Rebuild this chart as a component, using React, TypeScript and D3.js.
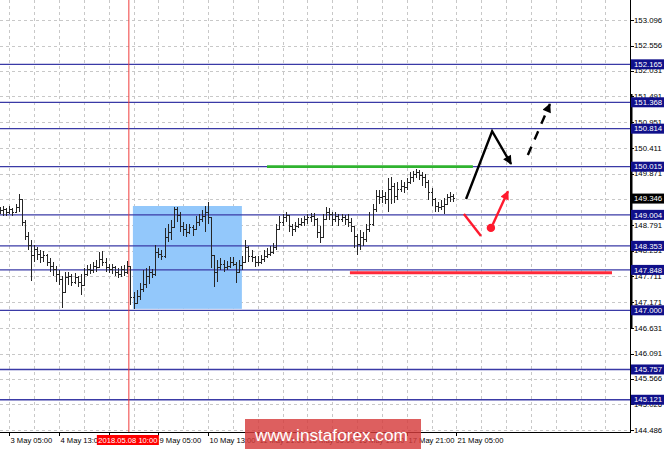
import React from 'react';
import * as d3 from 'd3';

const W = 665;
const H = 449;

// H2 bars: close, high, low
const closes = [149.09,149.11,149.06,149.11,149.06,149.15,149.32,148.85,148.56,148.37,
148.16,148.27,148.18,148.10,148.16,148.01,147.93,147.85,147.76,147.64,
147.38,147.68,147.72,147.59,147.68,147.59,147.53,147.76,147.85,147.83,
147.93,147.89,148.06,148.01,147.89,147.85,147.89,147.80,147.76,147.85,
147.80,147.93,147.26,147.15,147.30,147.43,147.55,147.72,147.80,147.76,
148.22,148.18,148.14,148.52,148.64,148.73,149.11,149.00,148.77,148.69,
148.64,148.73,148.69,148.85,148.90,148.98,149.06,148.94,148.16,147.80,
147.89,147.97,147.89,147.93,148.01,147.97,147.80,147.95,148.01,148.31,
148.14,148.10,148.01,148.01,148.06,148.14,148.18,148.22,148.31,148.69,
148.85,148.94,149.00,148.77,148.69,148.77,148.81,148.85,148.90,148.94,
148.98,148.90,148.64,148.52,148.90,149.06,149.02,148.90,148.98,148.90,
148.94,148.90,148.85,148.77,148.56,148.39,148.52,148.48,148.69,148.81,
149.11,149.40,149.36,149.40,149.32,149.53,149.61,149.40,149.53,149.61,
149.57,149.69,149.78,149.86,149.90,149.84,149.78,149.69,149.48,149.32,
149.19,149.15,149.19,149.23,149.36,149.40,149.35];
const highs = [149.17,149.19,149.15,149.19,149.15,149.23,149.44,149.21,148.90,148.64,
148.48,148.37,148.33,148.27,148.25,148.18,148.10,148.01,147.93,147.85,
147.72,147.80,147.80,147.76,147.78,147.72,147.76,147.89,147.95,147.97,
148.01,148.06,148.22,148.25,148.10,147.97,147.97,147.93,147.89,147.93,
147.95,148.04,147.53,147.38,147.43,147.57,147.85,147.89,147.93,147.87,
148.37,148.31,148.27,148.73,148.81,148.90,149.17,149.17,149.06,148.85,
148.81,148.81,148.79,148.98,149.02,149.11,149.19,149.27,148.94,148.16,
148.06,148.10,148.06,148.04,148.12,148.12,148.01,148.06,148.14,148.48,
148.35,148.27,148.14,148.14,148.16,148.27,148.31,148.35,148.41,148.81,
148.98,149.02,149.06,149.00,148.81,148.85,148.94,148.94,148.98,149.02,
149.04,149.04,148.94,148.77,149.02,149.17,149.15,149.06,149.06,149.02,
149.02,149.00,149.02,148.94,148.77,148.60,148.69,148.64,148.81,149.06,
149.23,149.53,149.53,149.53,149.48,149.78,149.80,149.67,149.69,149.74,
149.69,149.78,149.90,149.93,149.97,149.95,149.90,149.86,149.74,149.57,
149.36,149.27,149.32,149.36,149.44,149.48,149.44];
const lows = [149.02,148.98,148.98,149.02,148.98,149.04,149.06,148.77,148.48,148.27,
147.62,148.01,148.06,147.99,148.01,147.93,147.80,147.72,147.59,147.53,
147.05,147.43,147.53,147.51,147.55,147.49,147.32,147.64,147.72,147.76,
147.78,147.80,147.89,147.93,147.80,147.78,147.76,147.72,147.68,147.70,
147.72,147.76,147.11,147.03,147.17,147.22,147.38,147.47,147.55,147.68,
147.72,148.10,148.06,148.10,148.43,148.48,148.73,148.85,148.64,148.56,
148.54,148.60,148.56,148.69,148.77,148.85,148.64,148.81,147.89,147.49,
147.59,147.85,147.80,147.85,147.89,147.93,147.57,147.80,147.85,148.14,
148.01,148.01,147.91,147.93,147.97,148.01,148.10,148.14,148.18,148.27,
148.69,148.77,148.85,148.64,148.56,148.64,148.73,148.77,148.77,148.81,
148.85,148.77,148.52,148.41,148.60,148.90,148.90,148.77,148.85,148.77,
148.85,148.79,148.75,148.64,148.31,148.16,148.27,148.35,148.43,148.64,
148.77,149.06,149.23,149.25,149.23,149.06,149.23,149.25,149.32,149.48,
149.46,149.53,149.65,149.69,149.78,149.74,149.61,149.57,149.32,149.19,
149.06,149.06,149.11,149.02,149.23,149.27,149.27];
const firstOpen = 149.11;

const priceTicks = [153.096,152.556,152.031,151.491,150.951,150.411,149.871,149.331,148.791,148.251,147.711,147.171,146.631,146.091,145.566,145.026,144.486];
const hiddenTick = 149.331;
const levels = [152.165,151.368,150.814,150.015,149.004,148.353,147.848,147.000,145.757,145.121];
const currentPrice = 149.346;
const timeLabels = ['3 May 05:00','4 May 13:00','7 May 21:00','9 May 05:00','10 May 13:00','11 May 21:00','15 May 05:00','16 May 13:00','17 May 21:00','21 May 05:00'];
const timeLabelStart = 3;
const timeLabelEvery = 16;
const gridEvery = 8;
const markerIndex = 41.5;
const markerLabel = '2018.05.08 10:00';

// annotations in (bar index, price)
const zoneBox = [42.8, 77.9, 149.19, 147.03];
const greenSeg = [86, 152.3, 150.015];
const redSeg = [112.7, 197.1, 147.79];
const blackPath = [[150.1,149.337],[158.5,150.76],[164.6,150.072]];
const blackDashed = [[170,150.26],[177.1,151.33]];
const redLine = [[149.4,149.02],[154.9,148.56]];
const redDot = [158.1,148.73];
const redArrow = [[158.7,148.80],[163.6,149.50]];

const plotRight = 630;
const plotBottom = 432;

export default function App() {
  const x = d3.scaleLinear().domain([0, 200]).range([0, 621]);
  const y = d3.scaleLinear().domain([144.486, 153.096]).range([430, 20]);
  const line = d3.line<number[]>().x(d => x(d[0])).y(d => y(d[1]));
  const font = '"Liberation Sans", Arial, sans-serif';

  const vGrid: number[] = [];
  for (let i = 3; x(i) < plotRight; i += gridEvery) vGrid.push(i);

  const bars = closes.map((c, i) => {
    const o = i === 0 ? firstOpen : closes[i - 1];
    const h = Math.max(highs[i], o, c);
    const l = Math.min(lows[i], o, c);
    const xc = Math.round(x(i)) + 0.5;
    return { xc, o: y(o), c: y(c), h: y(h), l: y(l) };
  });

  return (
    <svg width={W} height={H} style={{ position: 'absolute', left: 0, top: 0, background: '#fff' }}>
      <defs>
        <clipPath id="plot"><rect x={0} y={0} width={plotRight} height={plotBottom} /></clipPath>
        <marker id="ahBlack" viewBox="0 0 10 10" refX="9" refY="5" markerWidth="11" markerHeight="9" markerUnits="userSpaceOnUse" orient="auto">
          <path d="M0,0 L10,5 L0,10 Z" fill="#000" />
        </marker>
        <marker id="ahRed" viewBox="0 0 10 10" refX="9" refY="5" markerWidth="11" markerHeight="9" markerUnits="userSpaceOnUse" orient="auto">
          <path d="M0,0 L10,5 L0,10 Z" fill="#ff1a2e" />
        </marker>
      </defs>
      <rect x={0} y={0} width={W} height={H} fill="#fff" />
      <g clipPath="url(#plot)">
        {priceTicks.map(p => (
          <line key={'hg' + p} x1={0} x2={plotRight} y1={Math.round(y(p)) + 0.5} y2={Math.round(y(p)) + 0.5} stroke="#c8c8c8" strokeDasharray="3,3" />
        ))}
        {vGrid.map(i => (
          <line key={'vg' + i} x1={Math.round(x(i)) + 0.5} x2={Math.round(x(i)) + 0.5} y1={0} y2={plotBottom} stroke="#c8c8c8" strokeDasharray="3,3" />
        ))}
        <rect x={x(zoneBox[0])} y={y(zoneBox[2])} width={x(zoneBox[1]) - x(zoneBox[0])} height={y(zoneBox[3]) - y(zoneBox[2])} fill="#93c8fb" />
        {levels.map(p => (
          <line key={'lv' + p} x1={0} x2={plotRight} y1={y(p)} y2={y(p)} stroke="#3a3aa6" strokeWidth={1.3} />
        ))}
        <line x1={x(markerIndex)} x2={x(markerIndex)} y1={0} y2={plotBottom} stroke="#f03c3c" strokeWidth={1} />
        <g stroke="#262626" strokeWidth={1} shapeRendering="crispEdges">
          {bars.map((b, i) => (
            <g key={'b' + i}>
              <line x1={b.xc} x2={b.xc} y1={b.h} y2={b.l} />
              <line x1={b.xc - 1.5} x2={b.xc} y1={b.o} y2={b.o} />
              <line x1={b.xc} x2={b.xc + 1.5} y1={b.c} y2={b.c} />
            </g>
          ))}
        </g>
        <line x1={x(greenSeg[0])} x2={x(greenSeg[1])} y1={y(greenSeg[2])} y2={y(greenSeg[2])} stroke="#2fb32f" strokeWidth={2.8} />
        <line x1={x(redSeg[0])} x2={x(redSeg[1])} y1={y(redSeg[2])} y2={y(redSeg[2])} stroke="#ff2a3a" strokeWidth={3} />
        <path d={line(blackPath) || ''} fill="none" stroke="#000" strokeWidth={2.4} markerEnd="url(#ahBlack)" />
        <path d={line(blackDashed) || ''} fill="none" stroke="#000" strokeWidth={2.4} strokeDasharray="9,8" markerEnd="url(#ahBlack)" />
        <path d={line(redLine) || ''} fill="none" stroke="#ff1a2e" strokeWidth={2.4} />
        <circle cx={x(redDot[0])} cy={y(redDot[1])} r={4.2} fill="#ff1a2e" />
        <path d={line(redArrow) || ''} fill="none" stroke="#ff1a2e" strokeWidth={2.4} markerEnd="url(#ahRed)" />
      </g>
      {/* axes */}
      <line x1={plotRight + 0.5} x2={plotRight + 0.5} y1={0} y2={plotBottom + 1} stroke="#000" />
      <line x1={0} x2={plotRight + 1} y1={plotBottom + 0.5} y2={plotBottom + 0.5} stroke="#000" />
      <rect x={plotRight} y={94} width={2.5} height={234} fill="#000" />
      {priceTicks.map(p => (
        <g key={'pt' + p}>
          <line x1={plotRight} x2={plotRight + 4} y1={Math.round(y(p)) + 0.5} y2={Math.round(y(p)) + 0.5} stroke="#000" />
          {p !== hiddenTick && (
            <text x={634} y={y(p)} dy="0.35em" fontSize={7.8} fontFamily={font} fill="#000">{p.toFixed(3)}</text>
          )}
        </g>
      ))}
      {levels.map(p => (
        <g key={'ll' + p}>
          <rect x={631} y={y(p) - 5} width={33} height={10} fill="#10108a" />
          <text x={634} y={y(p)} dy="0.35em" fontSize={7.8} fontFamily={font} fill="#fff">{p.toFixed(3)}</text>
        </g>
      ))}
      <rect x={631} y={y(currentPrice) - 5} width={33} height={10} fill="#000" />
      <text x={634} y={y(currentPrice)} dy="0.35em" fontSize={7.8} fontFamily={font} fill="#fff">{currentPrice.toFixed(3)}</text>
      {timeLabels.map((t, k) => {
        const xi = Math.round(x(timeLabelStart + k * timeLabelEvery)) + 0.5;
        return (
          <g key={'tl' + k}>
            <line x1={xi} x2={xi} y1={plotBottom} y2={plotBottom + 4} stroke="#000" />
            <text x={xi + 1} y={442.5} fontSize={7.6} fontFamily={font} fill="#000">{t}</text>
          </g>
        );
      })}
      <rect x={x(markerIndex) - 32} y={435} width={62} height={10} fill="#ff0000" />
      <text x={x(markerIndex) - 1} y={443} fontSize={7.6} fontFamily={font} fill="#fff" textAnchor="middle">{markerLabel}</text>
      {/* watermark */}
      <rect x={245} y={419} width={176} height={30} fill="rgba(214,60,60,0.82)" />
      <text x={255} y={441} fontSize={17.2} fontFamily={font} fill="#fff">www.instaforex.com</text>
    </svg>
  );
}
